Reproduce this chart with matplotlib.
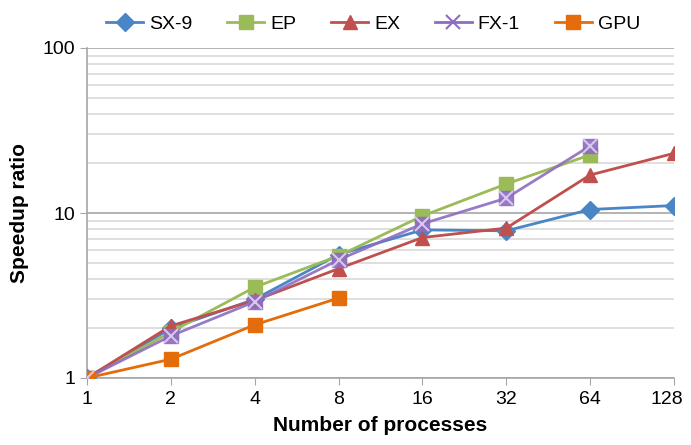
import numpy as np
import matplotlib.pyplot as plt
import matplotlib.transforms as mtransforms
from matplotlib.ticker import LogLocator, NullFormatter

# number of processes (categories, evenly spaced)
procs = ['1', '2', '4', '8', '16', '32', '64', '128']

sx9 = [1.0, 2.0, 3.0, 5.6, 7.9, 7.8, 10.5, 11.1]
ep = [1.0, 1.9, 3.55, 5.5, 9.6, 15.0, 22.5]
ex = [1.0, 2.07, 2.95, 4.6, 7.1, 8.1, 17.0, 23.0]
fx1 = [1.0, 1.8, 2.9, 5.2, 8.6, 12.3, 25.5]
gpu = [1.0, 1.3, 2.1, 3.05]

series = [
    ('SX-9', sx9, '#4a86c5', 'D', 9),
    ('EP', ep, '#9bbb59', 's', 10),
    ('EX', ex, '#c0504d', '^', 10),
    ('FX-1', fx1, '#8e6cc0', 'x', 10),
    ('GPU', gpu, '#e46c0a', 's', 10),
]

plt.rcParams['font.family'] = ['Liberation Sans', 'DejaVu Sans']

fig = plt.figure(figsize=(6.91, 4.45), dpi=100)
ax = fig.add_axes([87 / 691, 1 - 378 / 445, 587 / 691, 330 / 445])

for name, vals, col, mk, ms in series:
    x = np.arange(len(vals))
    if mk == 'x':
        ax.plot(x, vals, color=col, lw=2, marker='s', ms=ms,
                mfc=col, mec=col, alpha=0.9, zorder=3)
        ax.plot(x, vals, color=col, lw=0, marker='x', ms=ms, mew=1.5,
                mec='#d8c8f0', zorder=4)
        ax.plot([], [], color=col, lw=2, marker='x', ms=ms, mew=1.5,
                label=name)
    else:
        ax.plot(x, vals, color=col, lw=2, marker=mk, ms=ms, mfc=col,
                mec=col, label=name, zorder=3)

ax.set_yscale('log')
ax.set_ylim(1, 100)
ax.set_xlim(0, len(procs) - 1)
ax.set_xticks(np.arange(len(procs)))
ax.set_xticklabels(procs)
ax.yaxis.set_minor_locator(LogLocator(base=10, subs=np.arange(2, 10),
                                      numticks=20))
ax.yaxis.set_minor_formatter(NullFormatter())
ax.set_yticks([1, 10, 100])
ax.set_yticklabels(['1', '10', '100'])

ax.grid(True, which='major', axis='y', color='#a6a6a6', lw=1.2)
ax.grid(True, which='minor', axis='y', color='#d9d9d9', lw=1.2)
ax.set_axisbelow(True)

for s in ['top', 'right']:
    ax.spines[s].set_visible(False)
for s in ['left', 'bottom']:
    ax.spines[s].set_color('#a6a6a6')
    ax.spines[s].set_linewidth(1.2)

ax.tick_params(axis='x', which='major', length=5, color='#a6a6a6',
               labelsize=14, pad=4)
ax.tick_params(axis='y', which='major', length=5, color='#a6a6a6',
               labelsize=14)
ax.tick_params(axis='y', which='minor', length=0)

# last label nudged left so it stays inside the figure
last = ax.get_xticklabels()[-1]
last.set_transform(last.get_transform() +
                   mtransforms.ScaledTranslation(-7 / 100, 0,
                                                 fig.dpi_scale_trans))

ax.set_xlabel('Number of processes', fontsize=15, fontweight='bold',
              labelpad=6)
ax.set_ylabel('Speedup ratio', fontsize=15, fontweight='bold', labelpad=10)

fig.legend(loc='upper center', bbox_to_anchor=(0.54, 1.005), ncol=5,
           frameon=False, fontsize=14, handlelength=1.9, columnspacing=1.8,
           handletextpad=0.3)

fig.savefig('out.png', dpi=100)
